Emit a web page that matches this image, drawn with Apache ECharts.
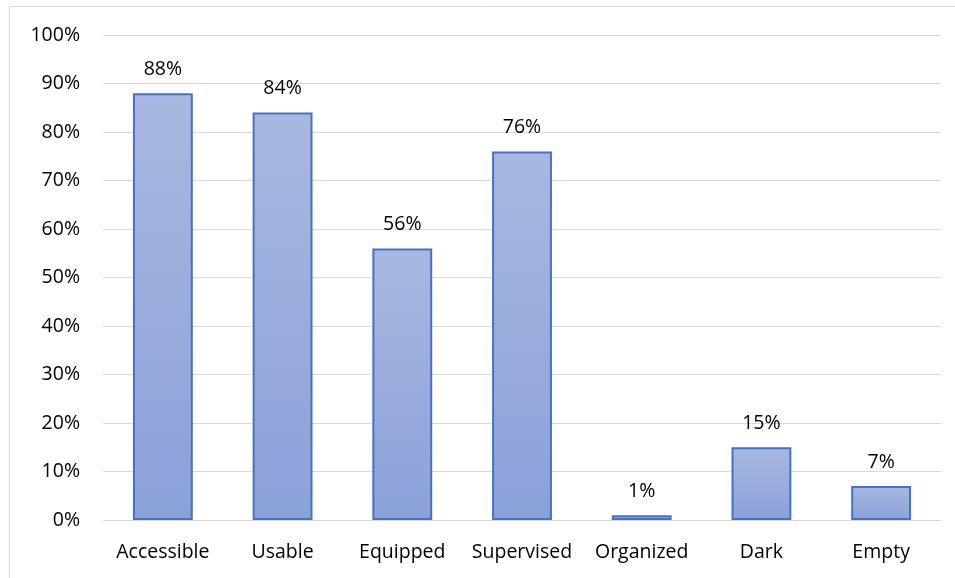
<!DOCTYPE html>
<html>
<head>
<meta charset="utf-8">
<script src="https://cdn.jsdelivr.net/npm/echarts@6/dist/echarts.min.js"></script>
<style>
  html, body { margin: 0; padding: 0; background: #fff; }
  #chart { width: 955px; height: 578px; }
</style>
</head>
<body>
<div id="chart"></div>
<script>
// Share of rooms meeting each condition (percent)
const categories = ['Accessible', 'Usable', 'Equipped', 'Supervised', 'Organized', 'Dark', 'Empty'];
const shares = [88, 84, 56, 76, 1, 15, 7];
const yTicks = [0, 10, 20, 30, 40, 50, 60, 70, 80, 90, 100];

const FONT = '"Open Sans", sans-serif';
const FONT_SIZE = 19.5;

const chart = echarts.init(document.getElementById('chart'), null, { renderer: 'canvas' });

chart.setOption({
  animation: false,
  backgroundColor: '#ffffff',
  graphic: [{
    type: 'rect',
    shape: { x: 9.5, y: 6.5, width: 1000, height: 700 },
    style: { fill: 'none', stroke: '#d9d9d9', lineWidth: 1 },
    silent: true
  }],
  grid: { left: 103, right: 14, top: 35, bottom: 58, containLabel: false },
  xAxis: {
    type: 'category',
    data: categories,
    axisTick: { show: false },
    axisLine: { show: true, lineStyle: { color: '#d9d9d9', width: 1 } },
    axisLabel: { color: '#000', fontFamily: FONT, fontSize: FONT_SIZE, margin: 22, interval: 0 }
  },
  yAxis: {
    type: 'value',
    min: yTicks[0],
    max: yTicks[yTicks.length - 1],
    interval: 10,
    axisLine: { show: false },
    axisTick: { show: false },
    splitLine: { lineStyle: { color: '#d9d9d9', width: 1 } },
    axisLabel: { color: '#000', fontFamily: FONT, fontSize: FONT_SIZE, margin: 23, formatter: '{value}%' }
  },
  series: [{
    type: 'bar',
    data: shares,
    barWidth: '50%',
    itemStyle: {
      color: new echarts.graphic.LinearGradient(0, 0, 0, 1, [
        { offset: 0, color: '#a9b8e1' },
        { offset: 1, color: '#8aa1d9' }
      ]),
      borderColor: '#4472c4',
      borderWidth: 2
    },
    label: {
      show: true,
      position: 'top',
      distance: 14,
      color: '#000',
      fontFamily: FONT,
      fontSize: FONT_SIZE,
      formatter: '{c}%'
    }
  }]
});
</script>
</body>
</html>
